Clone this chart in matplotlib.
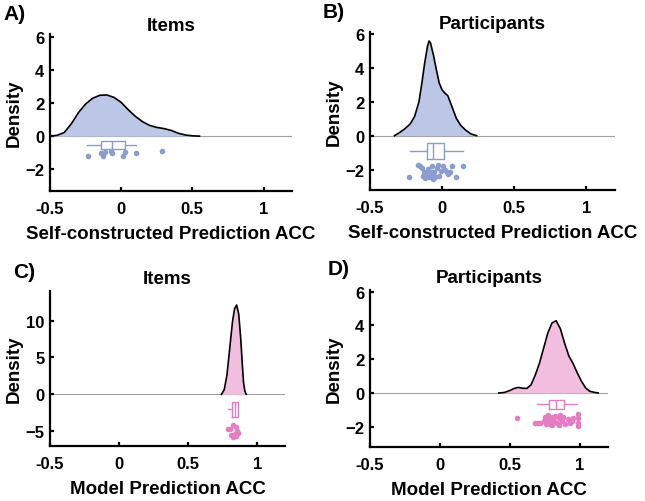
import numpy as np
import matplotlib
matplotlib.use("Agg")
import matplotlib.pyplot as plt

plt.rcParams['font.family'] = ['Liberation Sans', 'DejaVu Sans']
plt.rcParams['font.weight'] = 'bold'

# ---- density curves ----
a_kx = [-0.5, -0.45, -0.4, -0.35, -0.3, -0.25, -0.2, -0.15, -0.1, -0.05, 0, 0.05, 0.1,
        0.15, 0.2, 0.25, 0.3, 0.35, 0.4, 0.45, 0.5, 0.55]
a_ky = [0.0, 0.05, 0.22, 0.75, 1.43, 1.95, 2.3, 2.48, 2.5, 2.35, 2.05, 1.6, 1.2,
        0.88, 0.65, 0.53, 0.46, 0.35, 0.18, 0.07, 0.02, 0.0]

b_kx = [-0.33, -0.3, -0.26, -0.22, -0.19, -0.16, -0.14, -0.12, -0.1, -0.09, -0.08, -0.06,
        -0.04, -0.02, 0.0, 0.02, 0.04, 0.06, 0.08, 0.1, 0.13, 0.16, 0.2, 0.24]
b_ky = [0.0, 0.15, 0.39, 0.7, 1.14, 2.0, 3.1, 4.3, 5.3, 5.57, 5.45, 4.75,
        3.9, 3.1, 2.7, 2.5, 2.35, 1.9, 1.45, 1.0, 0.6, 0.35, 0.1, 0.0]

c_kx = [0.74, 0.76, 0.78, 0.80, 0.82, 0.835, 0.85, 0.865, 0.88, 0.89, 0.90, 0.91, 0.92]
c_ky = [0.0, 0.6, 2.6, 6.2, 9.8, 11.6, 12.1, 10.9, 7.5, 4.4, 1.6, 0.4, 0.0]

d_kx = [0.42, 0.46, 0.5, 0.53, 0.56, 0.59, 0.62, 0.65, 0.68, 0.71, 0.74, 0.77, 0.8, 0.83,
        0.86, 0.89, 0.92, 0.95, 0.98, 1.01, 1.04, 1.07, 1.1, 1.13]
d_ky = [0.0, 0.03, 0.15, 0.27, 0.33, 0.28, 0.27, 0.48, 1.05, 1.75, 2.65, 3.55, 4.15, 4.28,
        3.8, 2.95, 2.2, 1.75, 1.2, 0.7, 0.3, 0.1, 0.04, 0.0]

# ---- raw points (x = accuracy, y = jitter) ----
a_px = [-0.235, -0.14, -0.13, -0.115, -0.07, -0.065, 0.015, 0.03, 0.105, 0.29]
a_py = [-1.18, -1.0, -1.18, -0.95, -0.92, -1.0, -1.18, -0.95, -1.02, -0.92]

b_px = [-0.230, -0.170, -0.154, -0.138, -0.131, -0.124, -0.119, -0.107, -0.096, -0.089,
        -0.080, -0.073, -0.066, -0.062, -0.055, -0.038, -0.027, -0.020, -0.010, 0.008,
        0.019, 0.031, 0.042, 0.054, 0.066, 0.100, 0.146, -0.112, -0.05]
b_py = [-2.46, -1.73, -1.81, -1.93, -2.36, -2.12, -2.52, -2.26, -1.97, -2.46,
        -2.12, -1.77, -2.36, -2.56, -2.12, -1.93, -1.73, -2.36, -2.07, -1.77,
        -2.0, -2.12, -2.26, -2.16, -1.77, -2.46, -1.81, -2.4, -2.45]

c_px = [0.788, 0.80, 0.824, 0.849, 0.853, 0.812, 0.836, 0.824, 0.849, 0.861]
c_py = [-4.73, -4.63, -4.19, -4.41, -5.0, -5.54, -5.31, -5.76, -5.62, -5.18]

d_px = [0.551, 0.681, 0.70, 0.717, 0.74, 0.752, 0.756, 0.771, 0.776, 0.788, 0.799, 0.811,
        0.823, 0.835, 0.847, 0.859, 0.87, 0.882, 0.894, 0.913, 0.93, 0.941, 0.953,
        0.983, 0.983, 0.983, 0.983, 0.847, 0.799]
d_py = [-1.49, -1.75, -1.75, -1.75, -1.65, -1.45, -1.85, -1.29, -1.61, -1.85, -1.41, -1.65,
        -1.35, -1.75, -1.49, -1.29, -1.65, -1.45, -1.85, -1.55, -1.75, -1.65, -1.49,
        -1.25, -1.49, -1.75, -1.98, -1.9, -1.9]

# ---- box summaries: whislo, q1, med, q3, whishi ----
a_box = [-0.237, -0.143, -0.066, 0.028, 0.103]
b_box = [-0.223, -0.103, -0.066, 0.015, 0.146]
c_box = [0.788, 0.818, 0.835, 0.86, 0.86]
d_box = [0.693, 0.781, 0.827, 0.889, 0.981]

blue_fill = '#bcc6e6'
blue_dot = '#8a9dd0'
pink_fill = '#f2bedf'
pink_dot = '#e67cc2'

W, H = 645, 502
fig = plt.figure(figsize=(W / 100, H / 100), dpi=100)


def px_rect(left, right, top, bottom):
    return [left / W, 1 - bottom / H, (right - left) / W, (bottom - top) / H]


panels = [
    dict(rect=px_rect(50, 292, 35, 192), ylim=(-3.33, 6.2), yticks=[-2, 0, 2, 4, 6],
         kx=a_kx, ky=a_ky, px=a_px, py=a_py, box=a_box, bpos=-0.53, bw=0.47,
         fill=blue_fill, dot=blue_dot, title='Items', tpad=3, letter='A)', lxy=(3, 15),
         xlabel='Self-constructed Prediction ACC'),
    dict(rect=px_rect(370, 615, 33, 191), ylim=(-3.2, 6.1), yticks=[-2, 0, 2, 4, 6],
         kx=b_kx, ky=b_ky, px=b_px, py=b_py, box=b_box, bpos=-0.92, bw=0.95,
         fill=blue_fill, dot=blue_dot, title='Participants', tpad=3, letter='B)',
         lxy=(323, 13), xlabel='Self-constructed Prediction ACC'),
    dict(rect=px_rect(50, 285, 292, 447), ylim=(-7, 14), yticks=[-5, 0, 5, 10],
         kx=c_kx, ky=c_ky, px=c_px, py=c_py, box=c_box, bpos=-2.05, bw=2.0,
         fill=pink_fill, dot=pink_dot, title='Items', tpad=6, letter='C)', lxy=(13, 273),
         xlabel='Model Prediction ACC'),
    dict(rect=px_rect(370, 608, 291, 448), ylim=(-3.2, 6.1), yticks=[-2, 0, 2, 4, 6],
         kx=d_kx, ky=d_ky, px=d_px, py=d_py, box=d_box, bpos=-0.67, bw=0.55,
         fill=pink_fill, dot=pink_dot, title='Participants', tpad=6, letter='D)',
         lxy=(328, 270), xlabel='Model Prediction ACC'),
]

for p in panels:
    ax = fig.add_axes(p['rect'])
    ax.axhline(0, color='#a0a0a0', lw=0.8, zorder=1)
    ax.fill_between(p['kx'], p['ky'], 0, color=p['fill'], lw=0, zorder=2)
    ax.plot(p['kx'], p['ky'], color='black', lw=1.2, zorder=3)
    wl, q1, md, q3, wh = p['box']
    stats = [dict(whislo=wl, q1=q1, med=md, q3=q3, whishi=wh, fliers=[])]
    ax.bxp(stats, positions=[p['bpos']], widths=p['bw'], orientation='horizontal',
           showcaps=False, showfliers=False, manage_ticks=False,
           boxprops=dict(color=p['dot'], lw=1.0),
           whiskerprops=dict(color=p['dot'], lw=1.0),
           medianprops=dict(color=p['dot'], lw=1.0))
    ax.scatter(p['px'], p['py'], s=16, color=p['dot'], lw=0, zorder=4)

    ax.set_xlim(-0.5, 1.2)
    ax.set_ylim(*p['ylim'])
    ax.set_xticks([-0.5, 0, 0.5, 1])
    ax.set_xticklabels(['-0.5', '0', '0.5', '1'])
    ax.set_yticks(p['yticks'])
    ax.spines['top'].set_visible(False)
    ax.spines['right'].set_visible(False)
    for s in ['left', 'bottom']:
        ax.spines[s].set_linewidth(1.6)
    ax.tick_params(direction='in', length=3, width=1.6, labelsize=12)
    ax.tick_params(axis='x', pad=7)
    ax.tick_params(axis='y', pad=4)
    for lab in ax.get_xticklabels() + ax.get_yticklabels():
        lab.set_fontweight('bold')
    ax.set_title(p['title'], fontsize=13.5, fontweight='bold', pad=p['tpad'])
    ax.set_xlabel(p['xlabel'], fontsize=13.5, fontweight='bold', labelpad=6.5)
    ax.set_ylabel('Density', fontsize=13.5, fontweight='bold', labelpad=2)

    lx, ly = p['lxy']
    fig.text(lx / W, 1 - ly / H, p['letter'], fontsize=15,
             fontweight='bold', ha='left', va='center')

fig.savefig('out.png', dpi=100)
